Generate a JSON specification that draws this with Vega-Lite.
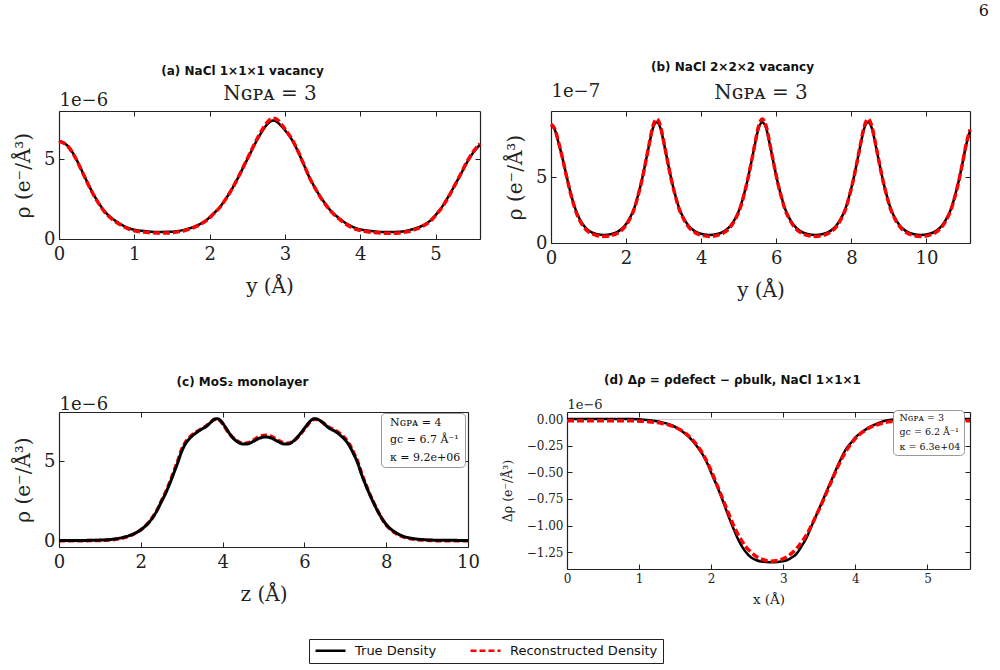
{
  "$schema": "https://vega.github.io/schema/vega-lite/v6.json",
  "background": "white",
  "padding": {"left": 13, "top": 3, "right": 5, "bottom": 5},
  "title": {"text": "6", "anchor": "end", "frame": "bounds", "font": "DejaVu Serif", "fontSize": 16, "fontWeight": "normal", "color": "#111", "offset": 42, "dx": 12},
  "datasets": {
    "aT": [{"x":0,"y":6.15},{"x":0.06,"y":6.02},{"x":0.12,"y":5.8},{"x":0.2,"y":5.25},{"x":0.28,"y":4.5},{"x":0.36,"y":3.7},{"x":0.44,"y":2.95},{"x":0.52,"y":2.3},{"x":0.6,"y":1.76},{"x":0.68,"y":1.38},{"x":0.76,"y":1.1},{"x":0.84,"y":0.87},{"x":0.92,"y":0.69},{"x":1.0,"y":0.58},{"x":1.1,"y":0.51},{"x":1.22,"y":0.46},{"x":1.34,"y":0.44},{"x":1.46,"y":0.45},{"x":1.56,"y":0.49},{"x":1.66,"y":0.57},{"x":1.76,"y":0.7},{"x":1.86,"y":0.9},{"x":1.96,"y":1.19},{"x":2.05,"y":1.58},{"x":2.14,"y":2.02},{"x":2.22,"y":2.55},{"x":2.3,"y":3.15},{"x":2.38,"y":3.85},{"x":2.46,"y":4.6},{"x":2.54,"y":5.35},{"x":2.62,"y":6.1},{"x":2.7,"y":6.75},{"x":2.77,"y":7.2},{"x":2.84,"y":7.4},{"x":2.9,"y":7.3},{"x":2.96,"y":7.02},{"x":3.03,"y":6.62},{"x":3.1,"y":6.15},{"x":3.18,"y":5.4},{"x":3.26,"y":4.55},{"x":3.33,"y":3.8},{"x":3.4,"y":3.2},{"x":3.47,"y":2.64},{"x":3.54,"y":2.18},{"x":3.6,"y":1.81},{"x":3.68,"y":1.45},{"x":3.78,"y":1.08},{"x":3.86,"y":0.85},{"x":3.95,"y":0.66},{"x":4.06,"y":0.55},{"x":4.17,"y":0.48},{"x":4.28,"y":0.44},{"x":4.4,"y":0.43},{"x":4.51,"y":0.45},{"x":4.62,"y":0.52},{"x":4.72,"y":0.64},{"x":4.84,"y":0.87},{"x":4.93,"y":1.15},{"x":5.02,"y":1.6},{"x":5.1,"y":2.1},{"x":5.18,"y":2.72},{"x":5.26,"y":3.4},{"x":5.34,"y":4.1},{"x":5.42,"y":4.8},{"x":5.5,"y":5.4},{"x":5.59,"y":5.9}],
    "aR": [{"x":0,"y":6.1},{"x":0.06,"y":6.0},{"x":0.12,"y":5.78},{"x":0.2,"y":5.22},{"x":0.28,"y":4.48},{"x":0.36,"y":3.68},{"x":0.44,"y":2.92},{"x":0.52,"y":2.27},{"x":0.6,"y":1.73},{"x":0.68,"y":1.34},{"x":0.76,"y":1.05},{"x":0.84,"y":0.82},{"x":0.92,"y":0.63},{"x":1.0,"y":0.52},{"x":1.1,"y":0.44},{"x":1.22,"y":0.39},{"x":1.34,"y":0.37},{"x":1.46,"y":0.38},{"x":1.56,"y":0.43},{"x":1.66,"y":0.52},{"x":1.76,"y":0.66},{"x":1.86,"y":0.88},{"x":1.96,"y":1.17},{"x":2.05,"y":1.56},{"x":2.14,"y":2.0},{"x":2.22,"y":2.54},{"x":2.3,"y":3.15},{"x":2.38,"y":3.86},{"x":2.46,"y":4.63},{"x":2.54,"y":5.4},{"x":2.62,"y":6.17},{"x":2.7,"y":6.85},{"x":2.77,"y":7.32},{"x":2.84,"y":7.55},{"x":2.9,"y":7.45},{"x":2.96,"y":7.12},{"x":3.03,"y":6.68},{"x":3.1,"y":6.18},{"x":3.18,"y":5.42},{"x":3.26,"y":4.55},{"x":3.33,"y":3.8},{"x":3.4,"y":3.18},{"x":3.47,"y":2.62},{"x":3.54,"y":2.15},{"x":3.6,"y":1.78},{"x":3.68,"y":1.41},{"x":3.78,"y":1.03},{"x":3.86,"y":0.79},{"x":3.95,"y":0.6},{"x":4.06,"y":0.48},{"x":4.17,"y":0.41},{"x":4.28,"y":0.37},{"x":4.4,"y":0.36},{"x":4.51,"y":0.38},{"x":4.62,"y":0.45},{"x":4.72,"y":0.58},{"x":4.84,"y":0.83},{"x":4.93,"y":1.12},{"x":5.02,"y":1.58},{"x":5.1,"y":2.08},{"x":5.18,"y":2.7},{"x":5.26,"y":3.4},{"x":5.34,"y":4.12},{"x":5.42,"y":4.85},{"x":5.5,"y":5.45},{"x":5.59,"y":5.95}],
    "bT": [{"x":0,"y":8.95},{"x":0.1,"y":8.6},{"x":0.2,"y":7.6},{"x":0.3,"y":6.5},{"x":0.4,"y":5.25},{"x":0.5,"y":4.05},{"x":0.6,"y":3.0},{"x":0.7,"y":2.2},{"x":0.85,"y":1.4},{"x":1.0,"y":0.95},{"x":1.2,"y":0.69},{"x":1.41,"y":0.61},{"x":1.615,"y":0.68},{"x":1.815,"y":0.92},{"x":1.965,"y":1.3},{"x":2.115,"y":1.98},{"x":2.215,"y":2.62},{"x":2.315,"y":3.58},{"x":2.415,"y":4.7},{"x":2.515,"y":6.05},{"x":2.615,"y":7.45},{"x":2.715,"y":8.7},{"x":2.815,"y":9.15},{"x":2.915,"y":8.7},{"x":3.015,"y":7.45},{"x":3.115,"y":6.05},{"x":3.215,"y":4.7},{"x":3.315,"y":3.58},{"x":3.415,"y":2.62},{"x":3.515,"y":1.98},{"x":3.665,"y":1.3},{"x":3.815,"y":0.92},{"x":4.015,"y":0.68},{"x":4.225,"y":0.61},{"x":4.43,"y":0.68},{"x":4.63,"y":0.92},{"x":4.78,"y":1.3},{"x":4.93,"y":1.98},{"x":5.03,"y":2.62},{"x":5.13,"y":3.58},{"x":5.23,"y":4.7},{"x":5.33,"y":6.05},{"x":5.43,"y":7.45},{"x":5.53,"y":8.7},{"x":5.63,"y":9.15},{"x":5.73,"y":8.7},{"x":5.83,"y":7.45},{"x":5.93,"y":6.05},{"x":6.03,"y":4.7},{"x":6.13,"y":3.58},{"x":6.23,"y":2.62},{"x":6.33,"y":1.98},{"x":6.48,"y":1.3},{"x":6.63,"y":0.92},{"x":6.83,"y":0.68},{"x":7.04,"y":0.61},{"x":7.245,"y":0.68},{"x":7.445,"y":0.92},{"x":7.595,"y":1.3},{"x":7.745,"y":1.98},{"x":7.845,"y":2.62},{"x":7.945,"y":3.58},{"x":8.045,"y":4.7},{"x":8.145,"y":6.05},{"x":8.245,"y":7.45},{"x":8.345,"y":8.7},{"x":8.445,"y":9.15},{"x":8.545,"y":8.7},{"x":8.645,"y":7.45},{"x":8.745,"y":6.05},{"x":8.845,"y":4.7},{"x":8.945,"y":3.58},{"x":9.045,"y":2.62},{"x":9.145,"y":1.98},{"x":9.295,"y":1.3},{"x":9.445,"y":0.92},{"x":9.645,"y":0.68},{"x":9.85,"y":0.61},{"x":10.06,"y":0.68},{"x":10.26,"y":0.92},{"x":10.41,"y":1.3},{"x":10.56,"y":1.98},{"x":10.66,"y":2.62},{"x":10.76,"y":3.58},{"x":10.86,"y":4.7},{"x":10.96,"y":6.05},{"x":11.06,"y":7.45},{"x":11.16,"y":8.5}],
    "bR": [{"x":0,"y":9.0},{"x":0.1,"y":8.65},{"x":0.2,"y":7.65},{"x":0.3,"y":6.5},{"x":0.4,"y":5.22},{"x":0.5,"y":4.0},{"x":0.6,"y":2.95},{"x":0.7,"y":2.12},{"x":0.85,"y":1.3},{"x":1.0,"y":0.85},{"x":1.2,"y":0.59},{"x":1.41,"y":0.5},{"x":1.615,"y":0.58},{"x":1.815,"y":0.82},{"x":1.965,"y":1.22},{"x":2.115,"y":1.92},{"x":2.215,"y":2.57},{"x":2.315,"y":3.54},{"x":2.415,"y":4.68},{"x":2.515,"y":6.05},{"x":2.615,"y":7.5},{"x":2.715,"y":8.85},{"x":2.815,"y":9.4},{"x":2.915,"y":8.85},{"x":3.015,"y":7.5},{"x":3.115,"y":6.05},{"x":3.215,"y":4.68},{"x":3.315,"y":3.54},{"x":3.415,"y":2.57},{"x":3.515,"y":1.92},{"x":3.665,"y":1.22},{"x":3.815,"y":0.82},{"x":4.015,"y":0.58},{"x":4.225,"y":0.5},{"x":4.43,"y":0.58},{"x":4.63,"y":0.82},{"x":4.78,"y":1.22},{"x":4.93,"y":1.92},{"x":5.03,"y":2.57},{"x":5.13,"y":3.54},{"x":5.23,"y":4.68},{"x":5.33,"y":6.05},{"x":5.43,"y":7.5},{"x":5.53,"y":8.85},{"x":5.63,"y":9.4},{"x":5.73,"y":8.85},{"x":5.83,"y":7.5},{"x":5.93,"y":6.05},{"x":6.03,"y":4.68},{"x":6.13,"y":3.54},{"x":6.23,"y":2.57},{"x":6.33,"y":1.92},{"x":6.48,"y":1.22},{"x":6.63,"y":0.82},{"x":6.83,"y":0.58},{"x":7.04,"y":0.5},{"x":7.245,"y":0.58},{"x":7.445,"y":0.82},{"x":7.595,"y":1.22},{"x":7.745,"y":1.92},{"x":7.845,"y":2.57},{"x":7.945,"y":3.54},{"x":8.045,"y":4.68},{"x":8.145,"y":6.05},{"x":8.245,"y":7.5},{"x":8.345,"y":8.85},{"x":8.445,"y":9.4},{"x":8.545,"y":8.85},{"x":8.645,"y":7.5},{"x":8.745,"y":6.05},{"x":8.845,"y":4.68},{"x":8.945,"y":3.54},{"x":9.045,"y":2.57},{"x":9.145,"y":1.92},{"x":9.295,"y":1.22},{"x":9.445,"y":0.82},{"x":9.645,"y":0.58},{"x":9.85,"y":0.5},{"x":10.06,"y":0.58},{"x":10.26,"y":0.82},{"x":10.41,"y":1.22},{"x":10.56,"y":1.92},{"x":10.66,"y":2.57},{"x":10.76,"y":3.54},{"x":10.86,"y":4.68},{"x":10.96,"y":6.05},{"x":11.06,"y":7.5},{"x":11.16,"y":8.6}],
    "cT": [{"x":0,"y":0.06},{"x":0.5,"y":0.06},{"x":1.0,"y":0.08},{"x":1.3,"y":0.13},{"x":1.6,"y":0.27},{"x":1.8,"y":0.44},{"x":2.0,"y":0.72},{"x":2.2,"y":1.18},{"x":2.4,"y":1.93},{"x":2.5,"y":2.45},{"x":2.6,"y":2.95},{"x":2.7,"y":3.55},{"x":2.8,"y":4.2},{"x":2.9,"y":4.88},{"x":3.0,"y":5.6},{"x":3.1,"y":6.1},{"x":3.2,"y":6.42},{"x":3.35,"y":6.75},{"x":3.5,"y":7.0},{"x":3.6,"y":7.15},{"x":3.7,"y":7.38},{"x":3.8,"y":7.6},{"x":3.87,"y":7.63},{"x":3.95,"y":7.52},{"x":4.05,"y":7.18},{"x":4.2,"y":6.6},{"x":4.35,"y":6.22},{"x":4.5,"y":6.06},{"x":4.6,"y":6.06},{"x":4.75,"y":6.22},{"x":4.9,"y":6.42},{"x":5.05,"y":6.5},{"x":5.2,"y":6.42},{"x":5.35,"y":6.22},{"x":5.5,"y":6.06},{"x":5.6,"y":6.06},{"x":5.75,"y":6.28},{"x":5.9,"y":6.7},{"x":6.05,"y":7.2},{"x":6.15,"y":7.5},{"x":6.25,"y":7.63},{"x":6.32,"y":7.6},{"x":6.45,"y":7.38},{"x":6.6,"y":7.05},{"x":6.75,"y":6.85},{"x":6.9,"y":6.55},{"x":7.0,"y":6.3},{"x":7.1,"y":5.95},{"x":7.2,"y":5.45},{"x":7.3,"y":4.9},{"x":7.4,"y":4.15},{"x":7.5,"y":3.5},{"x":7.6,"y":2.9},{"x":7.7,"y":2.35},{"x":7.8,"y":1.85},{"x":7.9,"y":1.41},{"x":8.0,"y":1.05},{"x":8.1,"y":0.79},{"x":8.25,"y":0.52},{"x":8.4,"y":0.33},{"x":8.6,"y":0.2},{"x":8.9,"y":0.11},{"x":9.3,"y":0.07},{"x":10,"y":0.06}],
    "cR": [{"x":0,"y":0.04},{"x":0.5,"y":0.04},{"x":1.0,"y":0.06},{"x":1.3,"y":0.1},{"x":1.6,"y":0.24},{"x":1.8,"y":0.42},{"x":2.0,"y":0.72},{"x":2.2,"y":1.2},{"x":2.4,"y":1.97},{"x":2.5,"y":2.5},{"x":2.6,"y":3.02},{"x":2.7,"y":3.63},{"x":2.8,"y":4.3},{"x":2.9,"y":4.98},{"x":3.0,"y":5.72},{"x":3.1,"y":6.2},{"x":3.2,"y":6.5},{"x":3.35,"y":6.8},{"x":3.5,"y":7.02},{"x":3.6,"y":7.18},{"x":3.7,"y":7.4},{"x":3.8,"y":7.58},{"x":3.87,"y":7.6},{"x":3.95,"y":7.48},{"x":4.05,"y":7.12},{"x":4.2,"y":6.6},{"x":4.35,"y":6.26},{"x":4.5,"y":6.1},{"x":4.6,"y":6.12},{"x":4.75,"y":6.3},{"x":4.9,"y":6.52},{"x":5.05,"y":6.6},{"x":5.2,"y":6.52},{"x":5.35,"y":6.3},{"x":5.5,"y":6.12},{"x":5.6,"y":6.1},{"x":5.75,"y":6.28},{"x":5.9,"y":6.66},{"x":6.05,"y":7.15},{"x":6.15,"y":7.46},{"x":6.25,"y":7.6},{"x":6.32,"y":7.58},{"x":6.45,"y":7.4},{"x":6.6,"y":7.1},{"x":6.75,"y":6.92},{"x":6.9,"y":6.64},{"x":7.0,"y":6.4},{"x":7.1,"y":6.05},{"x":7.2,"y":5.55},{"x":7.3,"y":4.98},{"x":7.4,"y":4.22},{"x":7.5,"y":3.55},{"x":7.6,"y":2.94},{"x":7.7,"y":2.38},{"x":7.8,"y":1.86},{"x":7.9,"y":1.4},{"x":8.0,"y":1.02},{"x":8.1,"y":0.75},{"x":8.25,"y":0.48},{"x":8.4,"y":0.29},{"x":8.6,"y":0.16},{"x":8.9,"y":0.08},{"x":9.3,"y":0.04},{"x":10,"y":0.04}],
    "dT": [{"x":0,"y":0.005},{"x":0.5,"y":0.005},{"x":0.9,"y":0.004},{"x":1.1,"y":-0.005},{"x":1.3,"y":-0.025},{"x":1.45,"y":-0.055},{"x":1.55,"y":-0.09},{"x":1.65,"y":-0.14},{"x":1.74,"y":-0.2},{"x":1.82,"y":-0.27},{"x":1.88,"y":-0.33},{"x":1.95,"y":-0.42},{"x":2.01,"y":-0.52},{"x":2.07,"y":-0.61},{"x":2.13,"y":-0.71},{"x":2.19,"y":-0.82},{"x":2.25,"y":-0.93},{"x":2.31,"y":-1.03},{"x":2.36,"y":-1.11},{"x":2.42,"y":-1.19},{"x":2.48,"y":-1.25},{"x":2.55,"y":-1.3},{"x":2.62,"y":-1.325},{"x":2.72,"y":-1.342},{"x":2.81,"y":-1.346},{"x":2.92,"y":-1.343},{"x":3.04,"y":-1.33},{"x":3.11,"y":-1.305},{"x":3.18,"y":-1.27},{"x":3.25,"y":-1.2},{"x":3.32,"y":-1.12},{"x":3.39,"y":-1.01},{"x":3.46,"y":-0.9},{"x":3.53,"y":-0.79},{"x":3.6,"y":-0.68},{"x":3.67,"y":-0.57},{"x":3.74,"y":-0.46},{"x":3.8,"y":-0.37},{"x":3.87,"y":-0.28},{"x":3.94,"y":-0.22},{"x":4.0,"y":-0.17},{"x":4.1,"y":-0.115},{"x":4.19,"y":-0.075},{"x":4.3,"y":-0.04},{"x":4.38,"y":-0.018},{"x":4.5,"y":-0.004},{"x":4.7,"y":0.003},{"x":5.0,"y":0.005},{"x":5.59,"y":0.005}],
    "dR": [{"x":0,"y":-0.012},{"x":0.5,"y":-0.012},{"x":0.9,"y":-0.013},{"x":1.1,"y":-0.02},{"x":1.3,"y":-0.035},{"x":1.45,"y":-0.06},{"x":1.55,"y":-0.09},{"x":1.65,"y":-0.135},{"x":1.74,"y":-0.19},{"x":1.82,"y":-0.26},{"x":1.88,"y":-0.32},{"x":1.95,"y":-0.41},{"x":2.01,"y":-0.5},{"x":2.07,"y":-0.6},{"x":2.13,"y":-0.7},{"x":2.19,"y":-0.8},{"x":2.25,"y":-0.9},{"x":2.31,"y":-1.0},{"x":2.36,"y":-1.07},{"x":2.42,"y":-1.14},{"x":2.48,"y":-1.2},{"x":2.55,"y":-1.25},{"x":2.62,"y":-1.29},{"x":2.72,"y":-1.322},{"x":2.81,"y":-1.336},{"x":2.92,"y":-1.33},{"x":3.04,"y":-1.3},{"x":3.11,"y":-1.265},{"x":3.18,"y":-1.22},{"x":3.25,"y":-1.16},{"x":3.32,"y":-1.09},{"x":3.39,"y":-1.0},{"x":3.46,"y":-0.9},{"x":3.53,"y":-0.8},{"x":3.6,"y":-0.69},{"x":3.67,"y":-0.58},{"x":3.74,"y":-0.47},{"x":3.8,"y":-0.385},{"x":3.87,"y":-0.3},{"x":3.94,"y":-0.23},{"x":4.0,"y":-0.18},{"x":4.1,"y":-0.12},{"x":4.19,"y":-0.08},{"x":4.3,"y":-0.05},{"x":4.38,"y":-0.033},{"x":4.5,"y":-0.02},{"x":4.7,"y":-0.013},{"x":5.0,"y":-0.012},{"x":5.59,"y":-0.012}]
  },
  "spacing": 74,
  "resolve": {
    "scale": {"shape": "independent", "color": "independent", "strokeDash": "independent"},
    "legend": {"shape": "independent", "color": "independent", "strokeDash": "independent"}
  },
  "vconcat": [
    {
      "hconcat": [
        {
          "width": 421, "height": 128,
          "title": {"text": "(a) NaCl 1×1×1 vacancy", "dx": -27, "offset": 5},
          "layer": [
            {"data": {"name": "aT"}, "mark": {"type": "line", "color": "#000000", "strokeWidth": 2.5, "interpolate": "monotone"},
             "encoding": {
               "x": {"field": "x", "type": "quantitative", "scale": {"domain": [0, 5.59], "nice": false, "zero": false}, "axis": {"title": "y (Å)", "values": [0, 1, 2, 3, 4, 5], "titlePadding": 13}},
               "y": {"field": "y", "type": "quantitative", "scale": {"domain": [0, 8], "nice": false}, "axis": {"title": "ρ (e⁻/Å³)", "values": [0, 5], "titlePadding": 10}}}},
            {"data": {"name": "aR"}, "mark": {"type": "line", "color": "#ff0000", "strokeWidth": 3.5, "strokeDash": [7, 3], "interpolate": "monotone"},
             "encoding": {
               "x": {"field": "x", "type": "quantitative", "scale": {"domain": [0, 5.59], "nice": false, "zero": false}, "axis": {"orient": "top", "labels": false, "values": [0, 1, 2, 3, 4, 5], "title": "Nɢᴘᴀ = 3", "titleX": 210.5, "titleY": -12, "titleAlign": "center", "titleBaseline": "alphabetic"}},
               "y": {"field": "y", "type": "quantitative", "scale": {"domain": [0, 8], "nice": false}, "axis": {"orient": "right", "labels": false, "values": [0, 5], "title": "1e−6", "titleX": -421, "titleY": -6, "titleAngle": 0, "titleAlign": "left", "titleBaseline": "alphabetic", "titleFontSize": 18}}}}
          ],
          "resolve": {"axis": {"x": "independent", "y": "independent"}}
        },
        {
          "width": 419, "height": 132,
          "title": {"text": "(b) NaCl 2×2×2 vacancy", "dx": -28, "offset": 8},
          "layer": [
            {"data": {"name": "bT"}, "mark": {"type": "line", "color": "#000000", "strokeWidth": 2.5, "interpolate": "monotone"},
             "encoding": {
               "x": {"field": "x", "type": "quantitative", "scale": {"domain": [0, 11.16], "nice": false, "zero": false}, "axis": {"title": "y (Å)", "values": [0, 2, 4, 6, 8, 10], "titlePadding": 13}},
               "y": {"field": "y", "type": "quantitative", "scale": {"domain": [0, 10], "nice": false}, "axis": {"title": "ρ (e⁻/Å³)", "values": [0, 5], "titlePadding": 10}}}},
            {"data": {"name": "bR"}, "mark": {"type": "line", "color": "#ff0000", "strokeWidth": 3.5, "strokeDash": [7, 3], "interpolate": "monotone"},
             "encoding": {
               "x": {"field": "x", "type": "quantitative", "scale": {"domain": [0, 11.16], "nice": false, "zero": false}, "axis": {"orient": "top", "labels": false, "values": [0, 2, 4, 6, 8, 10], "title": "Nɢᴘᴀ = 3", "titleX": 209.5, "titleY": -13, "titleAlign": "center", "titleBaseline": "alphabetic"}},
               "y": {"field": "y", "type": "quantitative", "scale": {"domain": [0, 10], "nice": false}, "axis": {"orient": "right", "labels": false, "values": [0, 5], "title": "1e−7", "titleX": -419, "titleY": -15, "titleAngle": 0, "titleAlign": "left", "titleBaseline": "alphabetic", "titleFontSize": 18}}}}
          ],
          "resolve": {"axis": {"x": "independent", "y": "independent"}}
        }
      ],
      "spacing": 71,
      "bounds": "flush"
    },
    {
      "hconcat": [
        {
          "width": 409, "height": 135,
          "title": {"text": "(c) MoS₂ monolayer", "dx": -21, "offset": 6},
          "layer": [
            {"data": {"name": "cR"}, "mark": {"type": "line", "strokeWidth": 3.5, "interpolate": "monotone"},
             "encoding": {
               "x": {"field": "x", "type": "quantitative", "scale": {"domain": [0, 10], "nice": false, "zero": false}, "axis": {"orient": "top", "labels": false, "values": [0, 2, 4, 6, 8, 10], "title": null}},
               "y": {"field": "y", "type": "quantitative", "scale": {"domain": [-0.35, 8.05], "nice": false, "zero": false}, "axis": {"orient": "right", "labels": false, "values": [0, 5], "title": "1e−6", "titleX": -409, "titleY": -3, "titleAngle": 0, "titleAlign": "left", "titleBaseline": "alphabetic", "titleFontSize": 18}},
               "color": {"datum": "Reconstructed Density", "type": "nominal", "scale": {"domain": ["True Density", "Reconstructed Density"], "range": ["#000000", "#ff0000"]},
                 "legend": {"orient": "none", "legendX": 250, "legendY": 227, "direction": "horizontal", "columns": 2, "title": null, "symbolType": "M-1,0H5", "symbolSize": 100, "symbolStrokeWidth": 2.5, "labelFont": "DejaVu Sans", "labelFontSize": 13, "labelColor": "#111", "labelOffset": 28, "columnPadding": 28, "padding": 5, "strokeColor": "#222", "fillColor": "white"}},
               "strokeDash": {"datum": "Reconstructed Density", "type": "nominal", "scale": {"domain": ["True Density", "Reconstructed Density"], "range": [[1, 0], [6, 3]]},
                 "legend": {"orient": "none", "legendX": 250, "legendY": 227, "direction": "horizontal", "columns": 2, "title": null, "symbolType": "M-1,0H5", "symbolSize": 100, "symbolStrokeWidth": 2.5, "labelFont": "DejaVu Sans", "labelFontSize": 13, "labelColor": "#111", "labelOffset": 28, "columnPadding": 28, "padding": 5, "strokeColor": "#222", "fillColor": "white"}}}},
            {"data": {"name": "cT"}, "mark": {"type": "line", "strokeWidth": 3, "interpolate": "monotone"},
             "encoding": {
               "x": {"field": "x", "type": "quantitative", "scale": {"domain": [0, 10], "nice": false, "zero": false}, "axis": {"title": "z (Å)", "values": [0, 2, 4, 6, 8, 10], "titlePadding": 13}},
               "y": {"field": "y", "type": "quantitative", "scale": {"domain": [-0.35, 8.05], "nice": false, "zero": false}, "axis": {"title": "ρ (e⁻/Å³)", "values": [0, 5], "titlePadding": 10}},
               "color": {"datum": "True Density", "type": "nominal", "scale": {"domain": ["True Density", "Reconstructed Density"], "range": ["#000000", "#ff0000"]},
                 "legend": {"orient": "none", "legendX": 250, "legendY": 227, "direction": "horizontal", "columns": 2, "title": null, "symbolType": "M-1,0H5", "symbolSize": 100, "symbolStrokeWidth": 2.5, "labelFont": "DejaVu Sans", "labelFontSize": 13, "labelColor": "#111", "labelOffset": 28, "columnPadding": 28, "padding": 5, "strokeColor": "#222", "fillColor": "white"}},
               "strokeDash": {"datum": "True Density", "type": "nominal", "scale": {"domain": ["True Density", "Reconstructed Density"], "range": [[1, 0], [6, 3]]},
                 "legend": {"orient": "none", "legendX": 250, "legendY": 227, "direction": "horizontal", "columns": 2, "title": null, "symbolType": "M-1,0H5", "symbolSize": 100, "symbolStrokeWidth": 2.5, "labelFont": "DejaVu Sans", "labelFontSize": 13, "labelColor": "#111", "labelOffset": 28, "columnPadding": 28, "padding": 5, "strokeColor": "#222", "fillColor": "white"}}}},
            {"data": {"values": [{"k": "Nɢᴘᴀ = 4"}, {"k": "gc = 6.7 Å⁻¹"}, {"k": "κ = 9.2e+06"}]},
             "mark": {"type": "point", "opacity": 0, "size": 0.01, "strokeWidth": 0},
             "encoding": {
               "shape": {"field": "k", "type": "nominal", "scale": {"domain": ["Nɢᴘᴀ = 4", "gc = 6.7 Å⁻¹", "κ = 9.2e+06"]},
                 "legend": {"orient": "none", "legendX": 322, "legendY": 1, "title": null, "symbolSize": 0.01, "symbolStrokeWidth": 0, "symbolOpacity": 0, "labelOffset": -6, "labelFont": "DejaVu Serif", "labelFontSize": 11, "labelColor": "#111", "rowPadding": 5.5, "padding": 4, "strokeColor": "#999", "fillColor": "white", "cornerRadius": 4}}}}
          ],
          "resolve": {"axis": {"x": "independent", "y": "independent"}}
        },
        {
          "width": 403, "height": 157,
          "title": {"text": "(d) Δρ = ρdefect − ρbulk, NaCl 1×1×1", "dx": -36, "offset": 11},
          "layer": [
            {"data": {"values": [{}]}, "mark": {"type": "rule", "color": "#c8c8c8", "strokeWidth": 1},
             "encoding": {"y": {"datum": 0, "type": "quantitative", "scale": {"domain": [-1.41, 0.07], "nice": false, "zero": false}, "axis": null}}},
            {"data": {"name": "dT"}, "mark": {"type": "line", "color": "#000000", "strokeWidth": 2.5, "interpolate": "monotone"},
             "encoding": {
               "x": {"field": "x", "type": "quantitative", "scale": {"domain": [0, 5.59], "nice": false, "zero": false}, "axis": {"title": "x (Å)", "values": [0, 1, 2, 3, 4, 5], "labelFontSize": 12, "titleFontSize": 13.5, "labelPadding": 9, "titlePadding": 8}},
               "y": {"field": "y", "type": "quantitative", "scale": {"domain": [-1.41, 0.07], "nice": false, "zero": false}, "axis": {"title": "Δρ (e⁻/Å³)", "values": [0, -0.25, -0.5, -0.75, -1, -1.25], "format": ".2f", "labelFontSize": 12, "titleFontSize": 12.5, "labelPadding": 9, "titlePadding": 12}}}},
            {"data": {"name": "dR"}, "mark": {"type": "line", "color": "#ff0000", "strokeWidth": 3.5, "strokeDash": [7, 3], "interpolate": "monotone"},
             "encoding": {
               "x": {"field": "x", "type": "quantitative", "scale": {"domain": [0, 5.59], "nice": false, "zero": false}, "axis": {"orient": "top", "labels": false, "values": [0, 1, 2, 3, 4, 5], "title": null}},
               "y": {"field": "y", "type": "quantitative", "scale": {"domain": [-1.41, 0.07], "nice": false, "zero": false}, "axis": {"orient": "right", "labels": false, "values": [0, -0.25, -0.5, -0.75, -1, -1.25], "title": "1e−6", "titleX": -403, "titleY": -4, "titleAngle": 0, "titleAlign": "left", "titleBaseline": "alphabetic", "titleFontSize": 13}}}},
            {"data": {"values": [{"k": "Nɢᴘᴀ = 3"}, {"k": "gc = 6.2 Å⁻¹"}, {"k": "κ = 6.3e+04"}]},
             "mark": {"type": "point", "opacity": 0, "size": 0.01, "strokeWidth": 0},
             "encoding": {
               "shape": {"field": "k", "type": "nominal", "scale": {"domain": ["Nɢᴘᴀ = 3", "gc = 6.2 Å⁻¹", "κ = 6.3e+04"]},
                 "legend": {"orient": "none", "legendX": 326, "legendY": -2, "title": null, "symbolSize": 0.01, "symbolStrokeWidth": 0, "symbolOpacity": 0, "labelOffset": -6, "labelFont": "DejaVu Serif", "labelFontSize": 9.5, "labelColor": "#111", "rowPadding": 3.5, "padding": 3, "strokeColor": "#999", "fillColor": "white", "cornerRadius": 4}}}}
          ],
          "resolve": {"axis": {"x": "independent", "y": "independent"}}
        }
      ],
      "spacing": 99,
      "bounds": "flush",
      "resolve": {
        "scale": {"shape": "independent", "color": "independent", "strokeDash": "independent"},
        "legend": {"shape": "independent", "color": "independent", "strokeDash": "independent"}
      }
    }
  ],
  "config": {
    "font": "DejaVu Sans",
    "view": {"stroke": null},
    "axis": {"grid": false, "domainColor": "#222", "domainWidth": 1.2, "tickColor": "#222", "tickSize": -5, "tickWidth": 1, "labelFont": "DejaVu Serif", "labelColor": "#222", "labelFontSize": 18, "labelFlush": false, "labelOverlap": false, "titleFont": "DejaVu Serif", "titleFontWeight": "normal", "titleColor": "#222", "titleFontSize": 20},
    "axisBottom": {"labelPadding": 11},
    "axisLeft": {"labelPadding": 9},
    "title": {"font": "DejaVu Sans", "fontSize": 12, "fontWeight": "bold", "color": "#111", "anchor": "middle", "frame": "group"}
  }
}
